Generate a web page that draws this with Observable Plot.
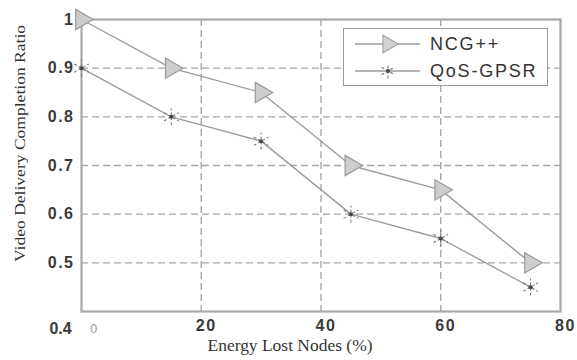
<!DOCTYPE html>
<html><head><meta charset="utf-8">
<script src="https://cdn.jsdelivr.net/npm/d3@7"></script>
<script src="https://cdn.jsdelivr.net/npm/@observablehq/plot@0.6"></script>
<style>
body{margin:0;background:#fff;}
#wrap{position:relative;width:577px;height:360px;overflow:hidden;}
#legend{position:absolute;left:343px;top:28px;width:205px;height:58px;border:1.5px solid #9a9a9a;background:#fff;box-sizing:border-box;font-family:"Liberation Sans",Arial,sans-serif;font-size:18px;color:#333;}
.row{position:absolute;left:10px;height:24px;display:flex;align-items:center;letter-spacing:1.8px;}
.row svg{margin-right:8px;}
</style></head><body><div id="wrap"><div id="legend"></div></div>
<script>
const energyLost = [0, 15, 30, 45, 60, 75];
const ncgValues = [1.0, 0.90, 0.85, 0.70, 0.65, 0.50];
const qosValues = [0.90, 0.80, 0.75, 0.60, 0.55, 0.45];
const seriesNames = ["NCG++", "QoS-GPSR"];
const xTicks = [20, 40, 60, 80];
const xGrid = [20, 40, 60];
const yTicks = [0.5, 0.6, 0.7, 0.8, 0.9, 1];
const yGrid = [0.5, 0.6, 0.7, 0.8, 0.9];
const xLabel = "Energy Lost Nodes (%)";
const yLabel = "Video Delivery Completion Ratio";

const ncg = energyLost.map((x, i) => ({x, y: ncgValues[i]}));
const qos = energyLost.map((x, i) => ({x, y: qosValues[i]}));

const lineColor = "#9c9c9c";
const gridColor = "#a6a6a6";

const chart = Plot.plot({
  width: 577, height: 360,
  marginLeft: 81, marginTop: 19, marginRight: 17, marginBottom: 49,
  style: {background: "#fff"},
  x: {domain: [0, 80]},
  y: {domain: [0.4, 1]},
  marks: [
    Plot.ruleX(xGrid, {stroke: gridColor, strokeWidth: 1.4, strokeDasharray: "7,4"}),
    Plot.ruleY(yGrid, {stroke: gridColor, strokeWidth: 1.4, strokeDasharray: "7,4"}),
    Plot.frame({stroke: "#a8a8a8", strokeWidth: 2.2}),
    Plot.axisY(yTicks, {tickSize: 0, tickPadding: 7, tickFormat: d => d === 1 ? "1" : d.toFixed(1),
      fontSize: 16, fontWeight: "bold", fill: "#3a3a3a", fontFamily: "Liberation Sans, Arial, sans-serif", label: null}),
    Plot.axisX(xTicks, {tickSize: 0, tickPadding: 8, dx: 5, fontSize: 16, fontWeight: "bold", fill: "#3a3a3a",
      fontFamily: "Liberation Sans, Arial, sans-serif", label: null}),
    Plot.text([{x: 0, y: 0.4, t: "0.4"}], {x: "x", y: "y", text: "t", dx: -21, dy: 17, fontSize: 16, fontWeight: "bold",
      fill: "#3a3a3a", fontFamily: "Liberation Sans, Arial, sans-serif"}),
    Plot.text([{x: 0, y: 0.4, t: "0"}], {x: "x", y: "y", text: "t", dx: 12, dy: 17, fontSize: 13,
      fill: "#9a9a9a", fontFamily: "Liberation Sans, Arial, sans-serif"}),
    Plot.text([xLabel], {frameAnchor: "bottom", textAnchor: "middle", text: d => d, dx: -31, dy: 39, fontSize: 16,
      fontFamily: "Liberation Serif, Times New Roman, serif", fill: "#333"}),
    Plot.text([yLabel], {frameAnchor: "left", textAnchor: "middle", text: d => d, rotate: -90, dx: -61, dy: -22, fontSize: 15.5,
      fontFamily: "Liberation Serif, Times New Roman, serif", fill: "#333"}),
    Plot.line(ncg, {x: "x", y: "y", stroke: lineColor, strokeWidth: 1.4}),
    Plot.line(qos, {x: "x", y: "y", stroke: lineColor, strokeWidth: 1.4}),
    Plot.dot(ncg, {x: "x", y: "y", symbol: "triangle", rotate: 90, r: 7.5, fill: "#cdcdcd", stroke: "#9a9a9a", strokeWidth: 1.2}),
    Plot.dot(qos, {x: "x", y: "y", symbol: "asterisk", r: 8, stroke: "#7a7a7a", strokeWidth: 1.1, strokeDasharray: "3,2"}),
    Plot.dot(qos, {x: "x", y: "y", r: 2, fill: "#444", stroke: "none"})
  ]
});

const wrap = document.getElementById("wrap");
wrap.insertBefore(chart, wrap.firstChild);
d3.select(chart).selectAll("[aria-label='y-axis tick label'] text, [aria-label='x-axis tick label'] text")
  .attr("letter-spacing", "1.5px");
d3.select(chart).selectAll("text").each(function() {
  const t = this.textContent;
  if (t === xLabel) d3.select(this).attr("textLength", 165).attr("lengthAdjust", "spacingAndGlyphs");
  if (t === yLabel) d3.select(this).attr("textLength", 237).attr("lengthAdjust", "spacingAndGlyphs");
});

// legend
const legend = d3.select("#legend");
const rows = [
  {name: seriesNames[0], sym: d3.symbolTriangle, size: Math.PI * 6.5 * 6.5, fill: "#d2d2d2", stroke: "#a0a0a0", rot: 90, dash: null, top: 3},
  {name: seriesNames[1], sym: d3.symbolAsterisk, size: Math.PI * 7 * 7, fill: "none", stroke: "#7a7a7a", rot: 0, dash: "3,2", top: 30}
];
rows.forEach(r => {
  const row = legend.append("div").attr("class", "row").style("top", r.top + "px");
  const s = row.append("svg").attr("width", 68).attr("height", 24);
  s.append("line").attr("x1", 1).attr("x2", 66).attr("y1", 12).attr("y2", 12).attr("stroke", lineColor).attr("stroke-width", 1.4);
  s.append("path").attr("d", d3.symbol(r.sym, r.size)()).attr("transform", `translate(34,12) rotate(${r.rot})`)
    .attr("fill", r.fill).attr("stroke", r.stroke).attr("stroke-width", 1.1).attr("stroke-dasharray", r.dash);
  if (r.dash) s.append("circle").attr("cx", 34).attr("cy", 12).attr("r", 2).attr("fill", "#444");
  row.append("span").text(r.name);
});
</script>
</body></html>
